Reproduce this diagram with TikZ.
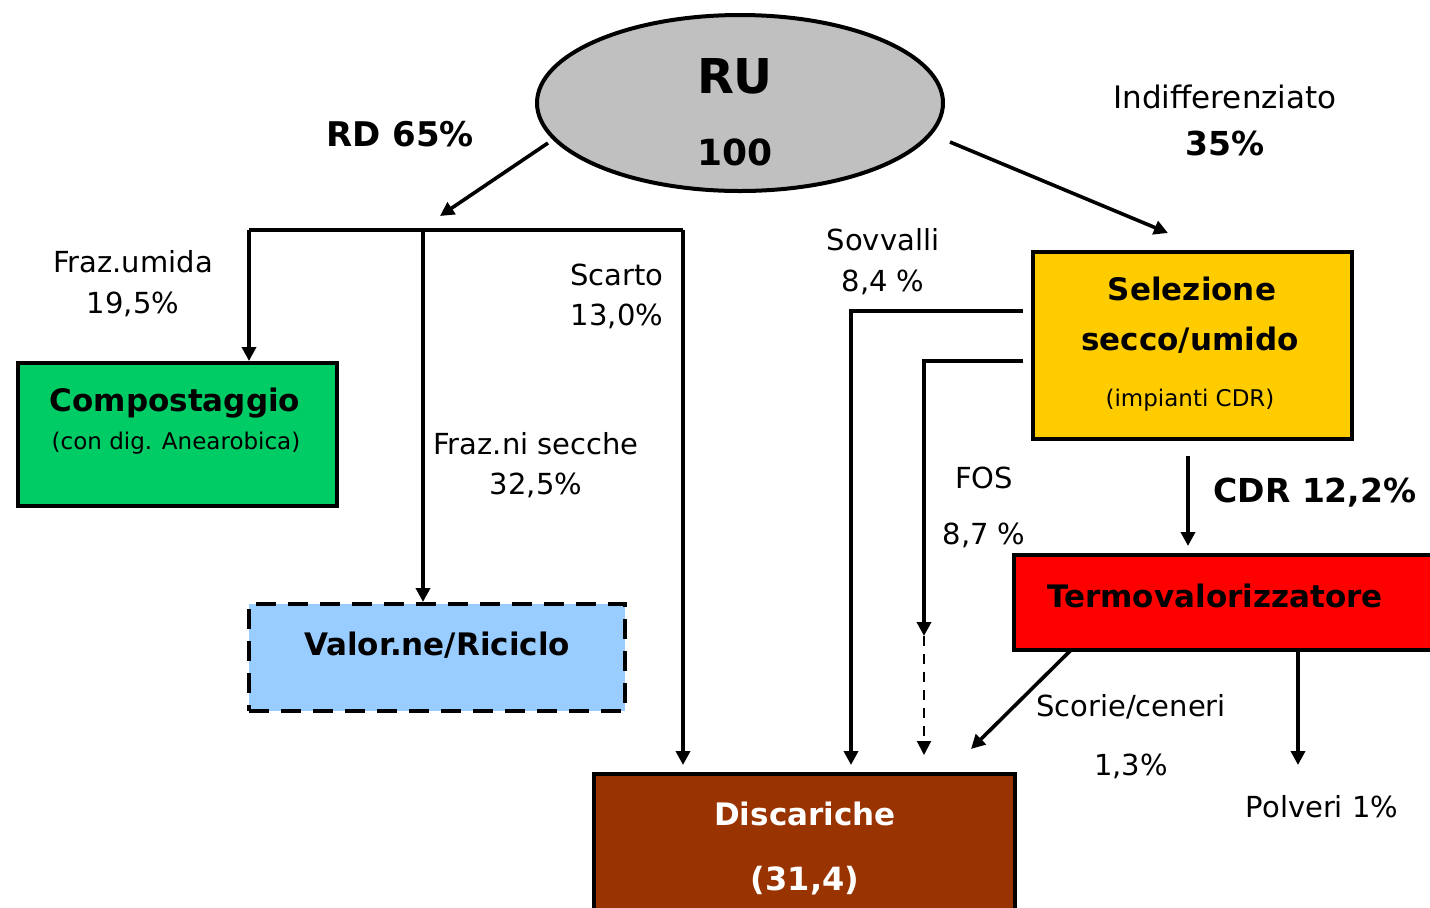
\documentclass[tikz,border=0pt]{standalone}
\usepackage{fontspec}
\setmainfont{DejaVu Sans}
\usetikzlibrary{shapes.geometric,arrows.meta}
\definecolor{ruGray}{RGB}{192,192,192}
\definecolor{compGreen}{RGB}{0,204,102}
\definecolor{valBlue}{RGB}{153,204,255}
\definecolor{discBrown}{RGB}{153,51,0}
\definecolor{selYellow}{RGB}{255,204,0}
\definecolor{termRed}{RGB}{255,0,0}
\tikzset{
  box/.style={draw=black, line width=2pt, inner sep=0pt},
  flow/.style={line width=1.8pt, -{Triangle[length=7pt,width=7pt]}},
  plainline/.style={line width=1.8pt},
  lbl/.style={inner sep=0pt, font=\fontsize{14.5}{16}\selectfont},
  blbl/.style={inner sep=0pt, font=\fontsize{15.5}{18}\selectfont\bfseries},
}
\begin{document}
\begin{tikzpicture}[x=0.5pt,y=-0.5pt]
\useasboundingbox (0,0) rectangle (1430,907);
% shapes
\node[ellipse, draw=black, line width=2pt, fill=ruGray, minimum width=203pt, minimum height=88pt] (ru) at (740,103) {};
\node[box, fill=compGreen, minimum width=159.5pt, minimum height=71.5pt] (comp) at (177.5,434.5) {};
\node[box, fill=valBlue, dash pattern=on 10pt off 6pt, minimum width=188pt, minimum height=53.5pt] (val) at (437,657.5) {};
\node[box, fill=discBrown, minimum width=210.5pt, minimum height=76pt] (disc) at (804.5,850) {};
\node[box, fill=selYellow, minimum width=159.5pt, minimum height=93.5pt] (sel) at (1192.5,345.5) {};
\node[box, fill=termRed, minimum width=213pt, minimum height=47.5pt] (term) at (1227,602.5) {};
% texts in shapes
\node[inner sep=0pt, font=\fontsize{24}{28}\selectfont\bfseries] (ruT) at (735,76) {RU};
\node[inner sep=0pt, font=\fontsize{18}{20}\selectfont\bfseries] (ruN) at (735,152) {100};
\node[blbl] (compT) at (175,403) {Compostaggio};
\node[inner sep=0pt, font=\fontsize{11.5}{13}\selectfont] (compS) at (176,443) {(con dig. Anearobica)};
\node[blbl] (valT) at (437,645) {Valor.ne/Riciclo};
\node[blbl, text=white] (discT) at (805,814) {Discariche};
\node[blbl, text=white, font=\fontsize{16}{18}\selectfont\bfseries] (discN) at (805,881) {(31,4)};
\node[blbl] (selT1) at (1192,289) {Selezione};
\node[blbl] (selT2) at (1190,340) {secco/umido};
\node[inner sep=0pt, font=\fontsize{11.5}{13}\selectfont] (selT3) at (1190,400) {(impianti CDR)};
\node[blbl] (termT) at (1215,596) {Termovalorizzatore};
% labels
\node[inner sep=0pt, font=\fontsize{17}{20}\selectfont\bfseries] (rdL) at (400,134) {RD 65\%};
\node[inner sep=0pt, font=\fontsize{15.5}{17}\selectfont] (indL) at (1225,97) {Indifferenziato};
\node[inner sep=0pt, font=\fontsize{16.5}{18}\selectfont\bfseries] (indP) at (1225,143) {35\%};
\node[lbl] (fuL) at (133,262) {Fraz.umida};
\node[lbl] (fuP) at (133,304) {19,5\%};
\node[lbl] (scL) at (617,275) {Scarto};
\node[lbl] (scP) at (617,316) {13,0\%};
\node[lbl] (fsL) at (536,444) {Fraz.ni secche};
\node[lbl] (fsP) at (536,485) {32,5\%};
\node[lbl] (sovL) at (883,240) {Sovvalli};
\node[lbl] (sovP) at (883,282) {8,4 \%};
\node[lbl] (fosL) at (984,478) {FOS};
\node[lbl] (fosP) at (984,535) {8,7 \%};
\node[inner sep=0pt, font=\fontsize{16.5}{18}\selectfont\bfseries] (cdrL) at (1315,493) {CDR 12,2\%};
\node[lbl] (scoL) at (1131,707) {Scorie/ceneri};
\node[lbl] (scoP) at (1131,766) {1,3\%};
\node[lbl] (polL) at (1322,807) {Polveri 1\%};
% coordinates
\coordinate (rdS) at (548,143);
\coordinate (rdE) at (440,216);
\coordinate (jL) at (249,230);
\coordinate (jM) at (423,230);
\coordinate (jR) at (683,230);
\coordinate (indS) at (950,142);
\coordinate (indE) at (1168,233);
\coordinate (sovS) at (1023,311);
\coordinate (sovC) at (851,311);
\coordinate (sovE) at (851,765);
\coordinate (fosS) at (1023,361);
\coordinate (fosC) at (924,361);
\coordinate (fosM) at (924,636);
\coordinate (fosE) at (924,755);
\coordinate (cdrS) at (1188,456);
\coordinate (cdrE) at (1188,546);
\coordinate (scoS) at (1071,650);
\coordinate (scoE) at (971,749);
\coordinate (polS) at (1298,650);
\coordinate (polE) at (1298,765);
\coordinate (scE) at (683,765);
% connectors
\draw[flow] (rdS) -- (rdE);
\draw[plainline] (jL) -- (jR);
\draw[flow] (jL) -- (jL |- comp.north);
\draw[flow] (jM) -- (jM |- val.north);
\draw[flow] (jR) -- (scE);
\draw[flow] (indS) -- (indE);
\draw[flow] (sovS) -- (sovC) -- (sovE);
\draw[flow] (fosS) -- (fosC) -- (fosM);
\draw[flow, line width=1pt, dash pattern=on 5pt off 4pt] (fosM) -- (fosE);
\draw[flow] (cdrS) -- (cdrE);
\draw[flow] (scoS) -- (scoE);
\draw[flow] (polS) -- (polE);
\end{tikzpicture}
\end{document}
